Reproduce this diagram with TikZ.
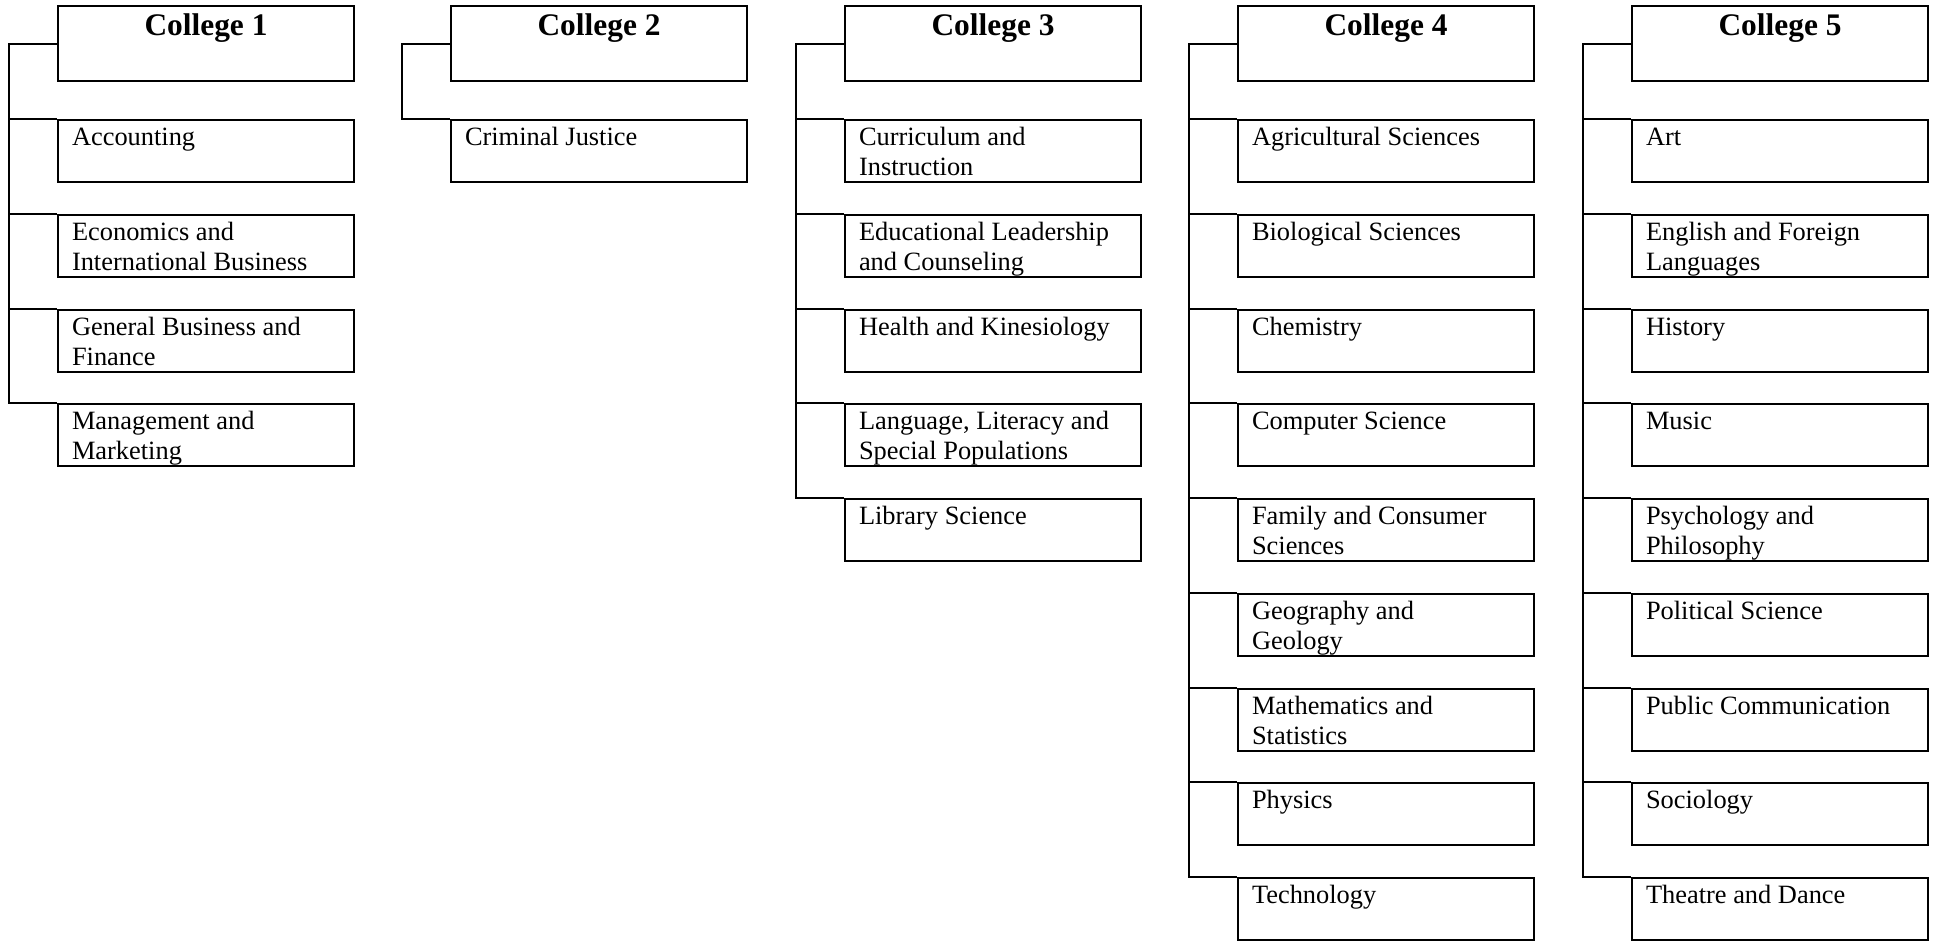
\documentclass[tikz,border=0pt]{standalone}
\usepackage{fontspec}
\setmainfont{Liberation Serif}
\newcommand\deptfont{\fontsize{26.4pt}{29.5pt}\selectfont}
\newcommand\headfont{\fontsize{31.4pt}{36pt}\selectfont\bfseries}
\newcommand\dtext[1]{\begin{minipage}[t][62pt][t]{268pt}\raggedright\rule{0pt}{25.5pt}#1\end{minipage}}
\newcommand\htext[1]{\begin{minipage}[t][75pt][t]{268pt}\centering\rule{0pt}{29.7pt}#1\end{minipage}}
\tikzset{
  dept/.style={draw, line width=2pt, inner xsep=14pt, inner ysep=0pt, anchor=north west, font=\deptfont},
  head/.style={draw, line width=2pt, inner xsep=14pt, inner ysep=0pt, anchor=north west, font=\headfont},
  conn/.style={line width=2pt, line join=miter},
}
\begin{document}
\begin{tikzpicture}[x=1pt,y=-1pt]
\useasboundingbox (0,0) rectangle (1934,940);
% College 1
\node[head] (h1) at (57,5) {\htext{College 1}};
\coordinate (s1) at ([xshift=-48pt]h1.west);
\node[dept] (c1a) at (57,119) {\dtext{Accounting}};
\node[dept] (c1b) at (57,214) {\dtext{Economics and\\International Business}};
\node[dept] (c1c) at (57,309) {\dtext{General Business and\\Finance}};
\node[dept] (c1d) at (57,403) {\dtext{Management and\\Marketing}};
\draw[conn] (h1.west) -- (s1) |- (c1d.north west);
\foreach \n in {c1a,c1b,c1c} \draw[conn] (\n.north west) -- (\n.north west -| s1);
% College 2
\node[head] (h2) at (450,5) {\htext{College 2}};
\coordinate (s2) at ([xshift=-48pt]h2.west);
\node[dept] (c2a) at (450,119) {\dtext{Criminal Justice}};
\draw[conn] (h2.west) -- (s2) |- (c2a.north west);
% College 3
\node[head] (h3) at (844,5) {\htext{College 3}};
\coordinate (s3) at ([xshift=-48pt]h3.west);
\node[dept] (c3a) at (844,119) {\dtext{Curriculum and\\Instruction}};
\node[dept] (c3b) at (844,214) {\dtext{Educational Leadership\\and Counseling}};
\node[dept] (c3c) at (844,309) {\dtext{Health and Kinesiology}};
\node[dept] (c3d) at (844,403) {\dtext{Language, Literacy and\\Special Populations}};
\node[dept] (c3e) at (844,498) {\dtext{Library Science}};
\draw[conn] (h3.west) -- (s3) |- (c3e.north west);
\foreach \n in {c3a,c3b,c3c,c3d} \draw[conn] (\n.north west) -- (\n.north west -| s3);
% College 4
\node[head] (h4) at (1237,5) {\htext{College 4}};
\coordinate (s4) at ([xshift=-48pt]h4.west);
\node[dept] (c4a) at (1237,119) {\dtext{Agricultural Sciences}};
\node[dept] (c4b) at (1237,214) {\dtext{Biological Sciences}};
\node[dept] (c4c) at (1237,309) {\dtext{Chemistry}};
\node[dept] (c4d) at (1237,403) {\dtext{Computer Science}};
\node[dept] (c4e) at (1237,498) {\dtext{Family and Consumer\\Sciences}};
\node[dept] (c4f) at (1237,593) {\dtext{Geography and\\Geology}};
\node[dept] (c4g) at (1237,688) {\dtext{Mathematics and\\Statistics}};
\node[dept] (c4h) at (1237,782) {\dtext{Physics}};
\node[dept] (c4i) at (1237,877) {\dtext{Technology}};
\draw[conn] (h4.west) -- (s4) |- (c4i.north west);
\foreach \n in {c4a,c4b,c4c,c4d,c4e,c4f,c4g,c4h} \draw[conn] (\n.north west) -- (\n.north west -| s4);
% College 5
\node[head] (h5) at (1631,5) {\htext{College 5}};
\coordinate (s5) at ([xshift=-48pt]h5.west);
\node[dept] (c5a) at (1631,119) {\dtext{Art}};
\node[dept] (c5b) at (1631,214) {\dtext{English and Foreign\\Languages}};
\node[dept] (c5c) at (1631,309) {\dtext{History}};
\node[dept] (c5d) at (1631,403) {\dtext{Music}};
\node[dept] (c5e) at (1631,498) {\dtext{Psychology and\\Philosophy}};
\node[dept] (c5f) at (1631,593) {\dtext{Political Science}};
\node[dept] (c5g) at (1631,688) {\dtext{Public Communication}};
\node[dept] (c5h) at (1631,782) {\dtext{Sociology}};
\node[dept] (c5i) at (1631,877) {\dtext{Theatre and Dance}};
\draw[conn] (h5.west) -- (s5) |- (c5i.north west);
\foreach \n in {c5a,c5b,c5c,c5d,c5e,c5f,c5g,c5h} \draw[conn] (\n.north west) -- (\n.north west -| s5);
\end{tikzpicture}
\end{document}
